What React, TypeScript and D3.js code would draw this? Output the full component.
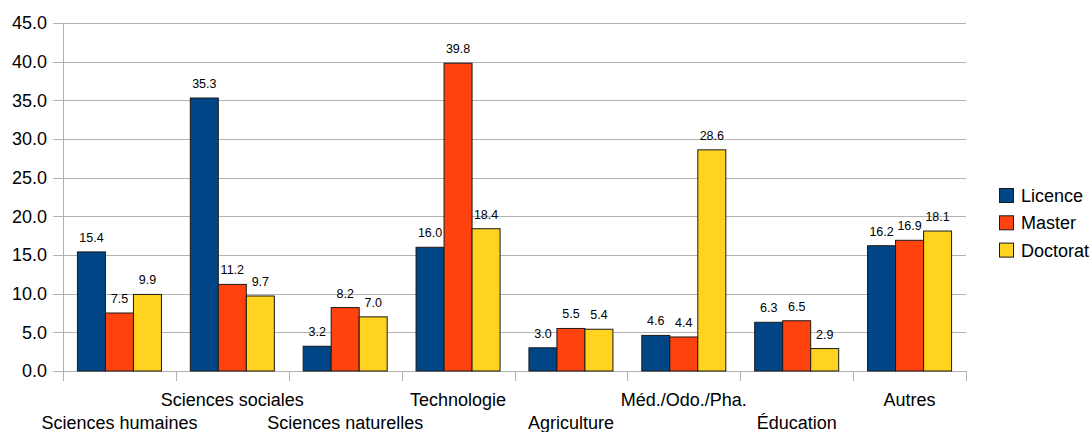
import React from "react";
import * as d3 from "d3";

const categories = ["Sciences humaines", "Sciences sociales", "Sciences naturelles", "Technologie", "Agriculture", "Méd./Odo./Pha.", "Éducation", "Autres"];
const seriesNames = ["Licence", "Master", "Doctorat"];
const licence = [15.4, 35.3, 3.2, 16.0, 3.0, 4.6, 6.3, 16.2];
const master = [7.5, 11.2, 8.2, 39.8, 5.5, 4.4, 6.5, 16.9];
const doctorat = [9.9, 9.7, 7.0, 18.4, 5.4, 28.6, 2.9, 18.1];
const yTicks = [0, 5, 10, 15, 20, 25, 30, 35, 40, 45];
const colors = ["#004586", "#ff420e", "#ffd320"];

export default function App() {
  const W = 1092, H = 432;
  const left = 63, right = 966, top = 23, bottom = 371;
  const x = d3.scaleBand().domain(categories).range([left, right]).paddingInner(0).paddingOuter(0);
  const x1 = d3.scaleBand().domain(seriesNames).range([0, x.bandwidth()]).paddingInner(0).paddingOuter(0.515);
  const y = d3.scaleLinear().domain([0, 45]).range([bottom, top]);
  const series = [licence, master, doctorat];
  const font = "'Liberation Sans', Arial, sans-serif";
  const tickPos = categories.map((c) => x(c)!).concat([right]);

  return (
    <svg width={W} height={H} style={{ position: "absolute", left: 0, top: 0, background: "#fff" }} fontFamily={font}>
      {yTicks.map((t) => (
        <g key={t}>
          <line x1={53} x2={right} y1={Math.round(y(t)) + 0.5} y2={Math.round(y(t)) + 0.5} stroke="#b3b3b3" strokeWidth={1} />
          <text x={47} y={y(t)} dy="0.36em" textAnchor="end" fontSize={18} fill="#000">{t.toFixed(1)}</text>
        </g>
      ))}
      <line x1={left + 0.5} x2={left + 0.5} y1={top} y2={bottom + 10} stroke="#b3b3b3" />
      {tickPos.map((p, i) => (
        <line key={i} x1={Math.round(p) + 0.5} x2={Math.round(p) + 0.5} y1={bottom} y2={bottom + 10} stroke="#b3b3b3" />
      ))}
      {categories.map((c, ci) => (
        <g key={c}>
          {series.map((s, si) => {
            const bx = x(c)! + x1(seriesNames[si])!;
            const bw = x1.bandwidth();
            return (
              <g key={si}>
                <rect x={bx} y={y(s[ci])} width={bw} height={y(0) - y(s[ci])} fill={colors[si]} stroke="#1a1a1a" strokeWidth={1} />
                <text x={bx + bw / 2} y={y(s[ci]) - 10} textAnchor="middle" fontSize={12.5} fill="#000">{s[ci].toFixed(1)}</text>
              </g>
            );
          })}
          <text x={x(c)! + x.bandwidth() / 2} y={ci % 2 === 0 ? 429 : 406} textAnchor="middle" fontSize={18} fill="#000">{c}</text>
        </g>
      ))}
      {seriesNames.map((n, i) => (
        <g key={n}>
          <rect x={999.5} y={188.5 + i * 27.3} width={14} height={14} fill={colors[i]} stroke="#1a1a1a" />
          <text x={1021} y={195.5 + i * 27.3} dy="0.36em" fontSize={18} fill="#000">{n}</text>
        </g>
      ))}
    </svg>
  );
}
